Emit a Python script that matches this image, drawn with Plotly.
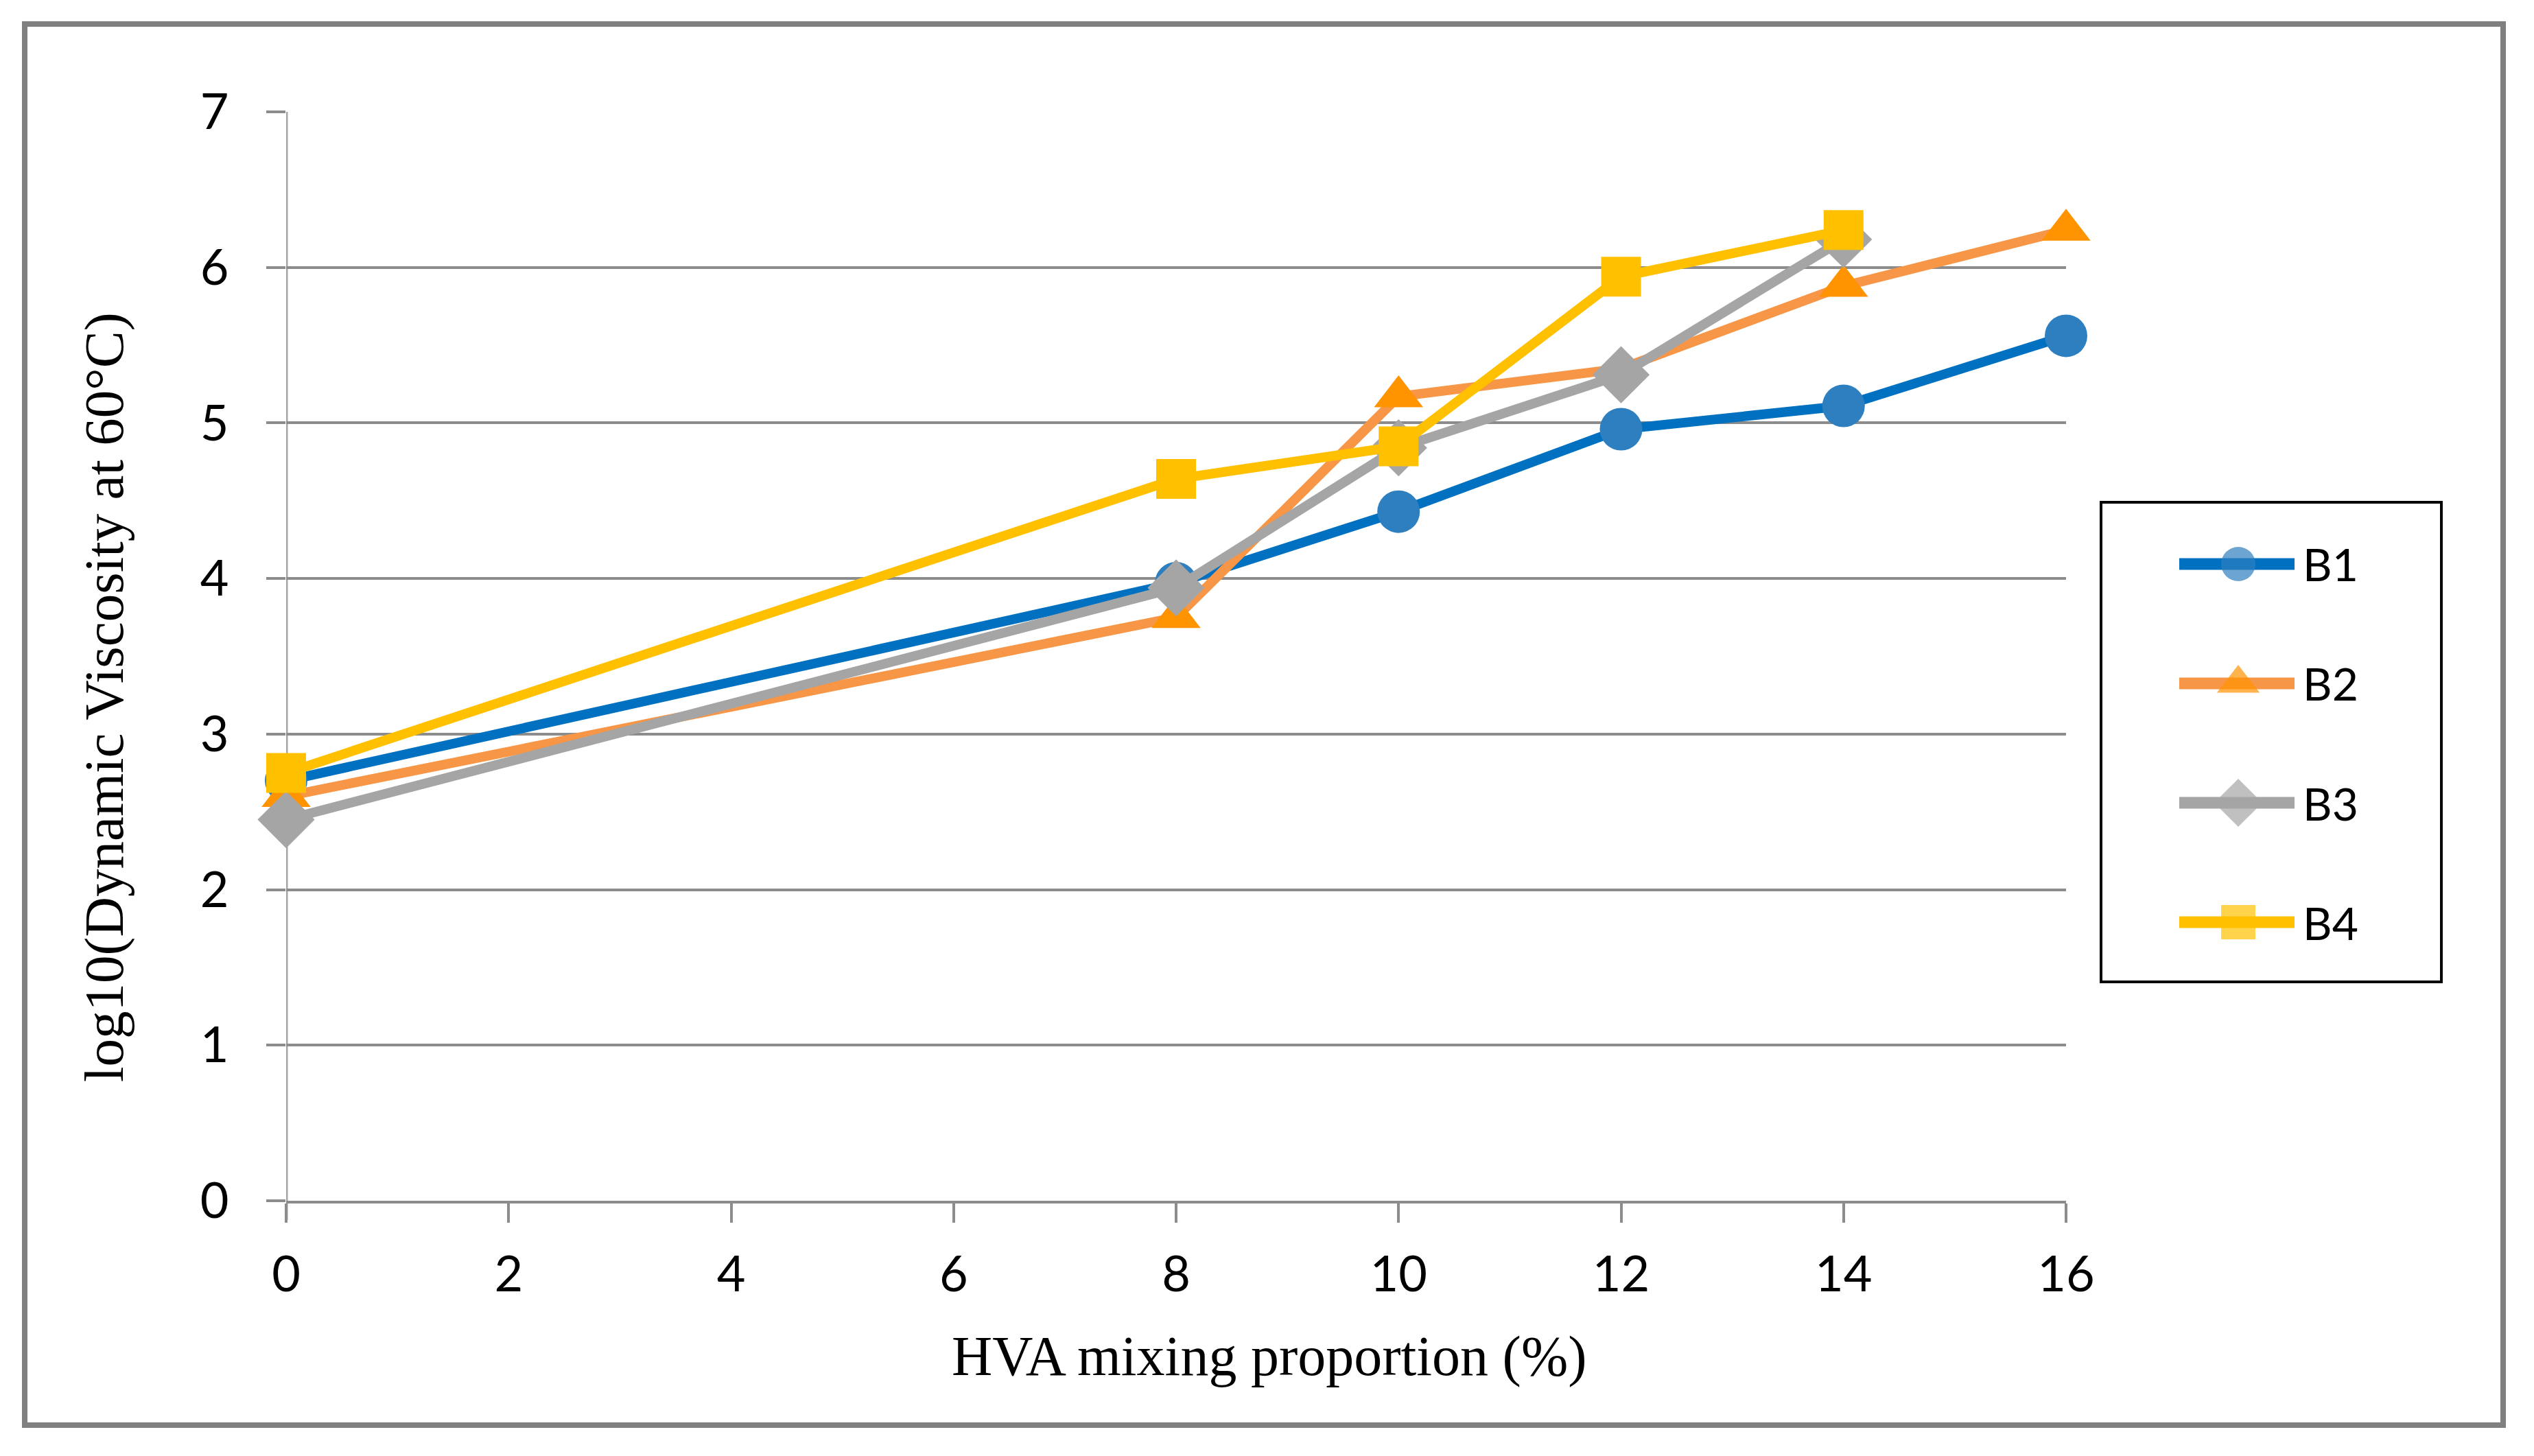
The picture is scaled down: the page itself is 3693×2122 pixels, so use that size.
import plotly.graph_objects as go

# ---------------- data ----------------
x_vals = [0, 8, 10, 12, 14, 16]
b1 = [2.70, 3.97, 4.43, 4.96, 5.11, 5.56]
b2 = [2.60, 3.75, 5.17, 5.35, 5.88, 6.24]
x_b3 = [0, 8, 10, 12, 14]
b3 = [2.45, 3.94, 4.84, 5.31, 6.18]
x_b4 = [0, 8, 10, 12, 14]
b4 = [2.75, 4.64, 4.85, 5.94, 6.24]
series_names = ["B1", "B2", "B3", "B4"]
x_ticks = [0, 2, 4, 6, 8, 10, 12, 14, 16]
y_ticks = [0, 1, 2, 3, 4, 5, 6, 7]

# ---------------- styles ----------------
line_colors = ["#0070C0", "#F79646", "#A5A5A5", "#FFC000"]
marker_colors = ["#2E7FBF", "#FF9300", "#A5A5A5", "#FFC000"]
symbols = ["circle", "triangle-up", "diamond", "square"]
msizes = [62, 62, 64, 58]

W, H = 3693, 2122
OFF = 8                      # default body margin of the html page
Wf, Hf = W - 2 * OFF, H - 2 * OFF


def fx(p):
    return (p - OFF) / Wf


def fy(p):
    return 1 - (p - OFF) / Hf


PL, PR, PT, PB = 417, 3011, 163, 1750          # plot area in page px
LB_L, LB_R, LB_T, LB_B = 3064, 3556, 734, 1429  # legend box in page px

fig = go.Figure()
xs_all = [x_vals, x_vals, x_b3, x_b4]
ys_all = [b1, b2, b3, b4]
for i, name in enumerate(series_names):
    fig.add_trace(go.Scatter(
        x=xs_all[i], y=ys_all[i], name=name, mode="lines+markers",
        line=dict(color=line_colors[i], width=14),
        marker=dict(color=marker_colors[i], symbol=symbols[i], size=msizes[i],
                    line=dict(width=0)),
        cliponaxis=False, showlegend=False,
    ))

# ------------- legend drawn in an overlay axis -------------
leg_x0, leg_xm, leg_x1 = 3176, 3262, 3344
leg_y0, leg_dy = 822, 174
leg_msizes = [50, 54, 54, 50]
legend_annots = []
for i, name in enumerate(series_names):
    yy = leg_y0 + i * leg_dy
    fig.add_trace(go.Scatter(
        x=[leg_x0, leg_xm, leg_x1], y=[yy, yy, yy],
        xaxis="x2", yaxis="y2", mode="lines+markers", showlegend=False,
        line=dict(color=line_colors[i], width=17),
        marker=dict(color=marker_colors[i], symbol=symbols[i],
                    size=[0, leg_msizes[i], 0], line=dict(width=0)),
        cliponaxis=False, hoverinfo="skip",
    ))
    legend_annots.append(dict(
        x=leg_x1 + 10, y=yy, xref="x2", yref="y2", text=name,
        showarrow=False, xanchor="left", yanchor="middle",
        font=dict(family="Lato", size=66, color="black"),
    ))

shapes = [
    dict(type="rect", xref="paper", yref="paper",
         x0=fx(36), x1=fx(3648), y0=fy(35), y1=fy(2077),
         line=dict(color="#808080", width=8), layer="below"),
    dict(type="line", xref="x", yref="paper", x0=0, x1=0,
         y0=fy(PB + 28), y1=fy(PT),
         line=dict(color="#A6A6A6", width=5), layer="below"),
]

annotations = [
    dict(text="HVA mixing proportion (%)", x=fx(1850), y=fy(1976),
         xref="paper", yref="paper", showarrow=False,
         xanchor="center", yanchor="middle",
         font=dict(family="Liberation Serif", size=82, color="black")),
    dict(text="log10(Dynamic Viscosity at 60°C)", x=fx(152), y=fy(1016),
         xref="paper", yref="paper", showarrow=False, textangle=-90,
         xanchor="center", yanchor="middle",
         font=dict(family="Liberation Serif", size=81, color="black")),
] + legend_annots

fig.update_layout(
    width=Wf, height=Hf,
    margin=dict(l=0, r=0, t=0, b=0, pad=0, autoexpand=False),
    paper_bgcolor="white", plot_bgcolor="rgba(0,0,0,0)",
    shapes=shapes,
    showlegend=False,
    xaxis=dict(
        domain=[fx(PL), fx(PR)], anchor="y",
        range=[x_ticks[0], x_ticks[-1]], tickmode="array", tickvals=x_ticks,
        showgrid=False, zeroline=False,
        showline=True, linecolor="#8C8C8C", linewidth=4,
        ticks="outside", ticklen=28, tickwidth=4, tickcolor="#8C8C8C",
        ticklabelstandoff=14,
        tickfont=dict(family="Lato", size=72, color="black"),
    ),
    yaxis=dict(
        domain=[fy(PB), fy(PT)], anchor="x",
        range=[y_ticks[0], y_ticks[-1]], tickmode="array", tickvals=y_ticks,
        showgrid=True, gridcolor="#8C8C8C", gridwidth=4,
        zeroline=False, showline=False,
        ticks="outside", ticklen=28, tickwidth=4, tickcolor="#8C8C8C",
        ticklabelstandoff=40,
        tickfont=dict(family="Lato", size=72, color="black"),
    ),
    xaxis2=dict(
        domain=[fx(LB_L), fx(LB_R)], anchor="y2", range=[LB_L, LB_R],
        showgrid=False, zeroline=False, showticklabels=False, ticks="",
        showline=True, mirror=True, linecolor="black", linewidth=4,
        fixedrange=True,
    ),
    yaxis2=dict(
        domain=[fy(LB_B), fy(LB_T)], anchor="x2", range=[LB_B, LB_T],
        showgrid=False, zeroline=False, showticklabels=False, ticks="",
        showline=True, mirror=True, linecolor="black", linewidth=4,
        fixedrange=True,
    ),
    annotations=annotations,
)

fig.write_html("out.html")
